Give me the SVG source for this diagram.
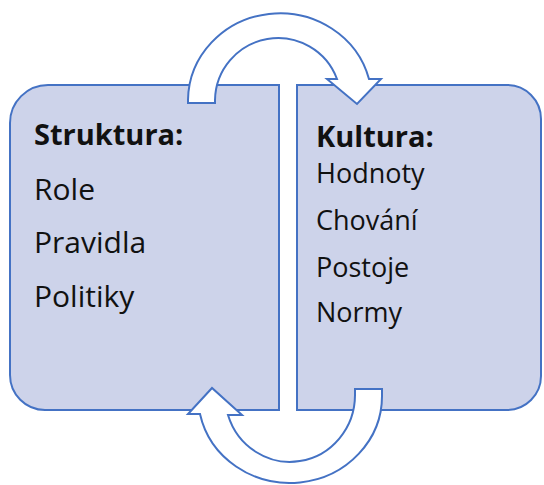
<svg xmlns="http://www.w3.org/2000/svg" width="544" height="485" viewBox="0 0 544 485">
<style>
.box{fill:#CDD3EA;stroke:#4472C4;stroke-width:2}
.arrow{fill:#ffffff;stroke:#4472C4;stroke-width:2;stroke-linejoin:miter}
text{font-family:"Open Sans","Noto Sans",sans-serif;fill:#111111}
.h{font-weight:bold;font-size:29px}
.l{font-size:30px}
.r{font-size:27px}
</style>
<rect width="544" height="485" fill="#ffffff"/>
<g id="struktura">
<path class="box" d="M 48 85 L 279 85 L 279 410 L 45 410 A 35 35 0 0 1 10 375 L 10 123 A 38 38 0 0 1 48 85 Z"/>
<text class="h" x="34" y="145">Struktura:</text>
<text class="l" x="34" y="200">Role</text>
<text class="l" x="34" y="253">Pravidla</text>
<text class="l" x="34" y="307">Politiky</text>
</g>
<g id="kultura">
<path class="box" d="M 297 85 L 507 85 A 34 34 0 0 1 541 119 L 541 376 A 34 34 0 0 1 507 410 L 297 410 Z"/>
<text class="h" x="316" y="147">Kultura:</text>
<text class="r" x="316" y="183">Hodnoty</text>
<text class="r" x="316" y="230">Chování</text>
<text class="r" x="316" y="277">Postoje</text>
<text class="r" x="316" y="322">Normy</text>
</g>
<g id="connectors">
<path class="arrow" d="M 188 103 L 188 100 A 92 88 0 0 1 369 79 L 381 79 L 357 104 L 327 79 L 337 79 A 63 63 0 0 0 215 100 L 215 103 Z"/>
<path class="arrow" d="M 382 389 L 382 395 A 92 87 0 0 1 200 414 L 188 414 L 212 388 L 242 415 L 228 415 A 65 67 0 0 0 355 395 L 355 389 Z"/>
</g>
</svg>
